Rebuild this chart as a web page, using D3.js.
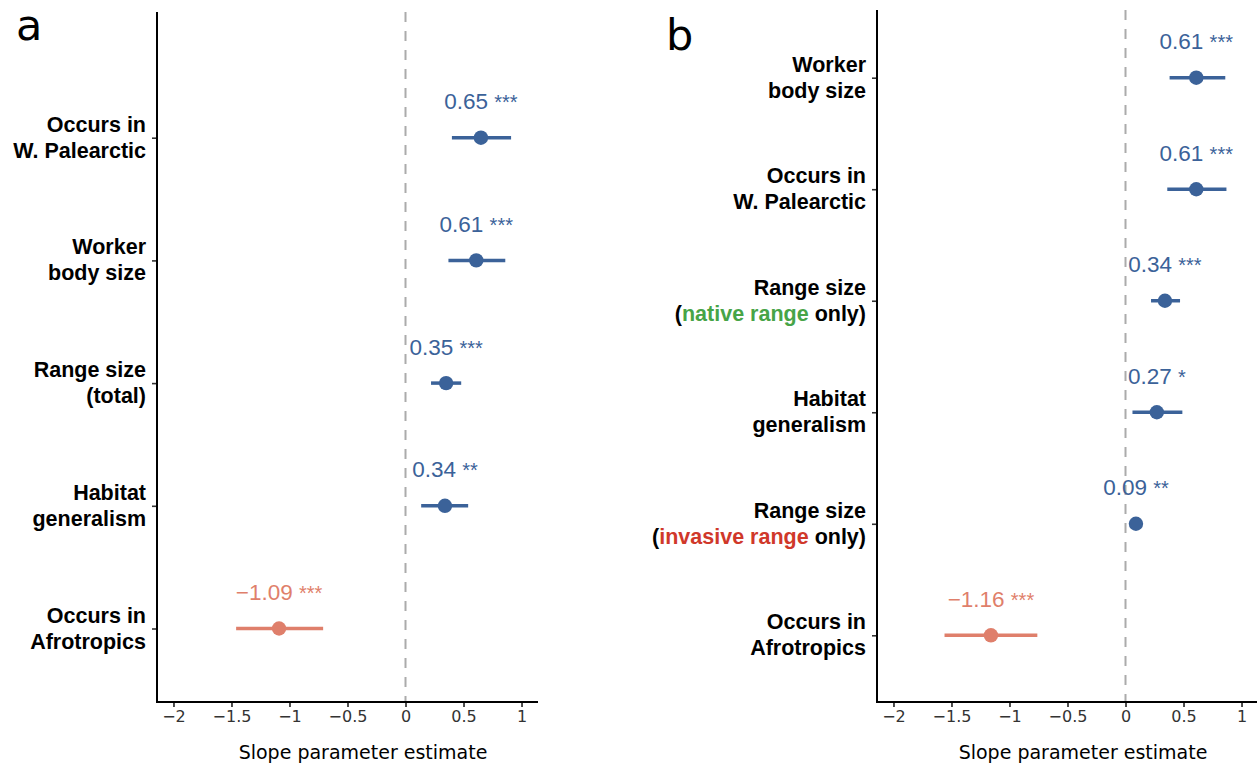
<!DOCTYPE html>
<html>
<head>
<meta charset="utf-8">
<script src="https://cdn.jsdelivr.net/npm/d3@7"></script>
<style>
  body { margin: 0; background: #fff; }
  svg { display: block; }
</style>
</head>
<body>
<div id="chart"></div>
<script>
// tick values shared by both panels
const ticks = [-2, -1.5, -1, -0.5, 0, 0.5, 1];

// panel a
const catsA = ["Occurs in\nW. Palearctic", "Worker\nbody size", "Range size\n(total)", "Habitat\ngeneralism", "Occurs in\nAfrotropics"];
const estA = [0.65, 0.61, 0.35, 0.34, -1.09];
const lowA = [0.40, 0.37, 0.22, 0.135, -1.46];
const highA = [0.91, 0.86, 0.48, 0.54, -0.71];
const starsA = ["***", "***", "***", "**", "***"];

// panel b
const catsB = ["Worker\nbody size", "Occurs in\nW. Palearctic", "Range size\n(native range only)", "Habitat\ngeneralism", "Range size\n(invasive range only)", "Occurs in\nAfrotropics"];
const estB = [0.61, 0.61, 0.34, 0.27, 0.09, -1.16];
const lowB = [0.38, 0.36, 0.22, 0.06, 0.06, -1.56];
const highB = [0.86, 0.87, 0.47, 0.49, 0.12, -0.76];
const starsB = ["***", "***", "***", "*", "**", "***"];

// coloured words inside the category labels
const highlights = { "native range": "#47a447", "invasive range": "#d0382a" };

const posColor = "#3b6299", negColor = "#df7f6b";
const fmt = d3.format(".2f");

const svg = d3.select("#chart").append("svg")
    .attr("width", 1257)
    .attr("height", 766);

drawPanel({ letter: "a", letterX: 16, letterY: 40, left: 157, yTop: 12, yRange: [137.7, 628.5], titleX: 363,
            cats: catsA, est: estA, low: lowA, high: highA, stars: starsA });
drawPanel({ letter: "b", letterX: 666, letterY: 50, left: 877, yTop: 10, yRange: [77.7, 635.3], titleX: 1083,
            cats: catsB, est: estB, low: lowB, high: highB, stars: starsB });

function drawPanel(p) {
    const axisY = 702;
    const x = d3.scaleLinear().domain([-2.142, 1.142]).range([p.left, p.left + 381]);
    const y = d3.scalePoint().domain(p.cats).range(p.yRange);
    const g = svg.append("g");

    // panel letter
    g.append("text")
        .attr("x", p.letterX).attr("y", p.letterY)
        .attr("font-family", "DejaVu Sans").attr("font-size", 43)
        .text(p.letter);

    // zero reference line
    g.append("line")
        .attr("x1", x(0)).attr("x2", x(0))
        .attr("y1", p.yTop).attr("y2", axisY)
        .attr("stroke", "#ababab").attr("stroke-width", 2)
        .attr("stroke-dasharray", "10,9");

    // x axis
    const xAxis = g.append("g")
        .attr("transform", `translate(0,${axisY})`)
        .call(d3.axisBottom(x).tickValues(ticks).tickSize(5).tickPadding(4)
            .tickFormat(d => d === 0 ? "0" : d3.format("")(d).replace("-", "\u2212")));
    xAxis.select(".domain").remove();
    xAxis.selectAll(".tick line").attr("stroke", "#222").attr("stroke-width", 1.6);
    xAxis.selectAll(".tick text")
        .attr("font-family", "DejaVu Sans").attr("font-size", 16).attr("fill", "#333");
    g.append("line")
        .attr("x1", p.left).attr("x2", p.left + 381)
        .attr("y1", axisY).attr("y2", axisY)
        .attr("stroke", "#000").attr("stroke-width", 2);

    // y axis
    const yAxis = g.append("g")
        .attr("transform", `translate(${p.left},0)`)
        .call(d3.axisLeft(y).tickSize(5).tickFormat(""));
    yAxis.select(".domain").remove();
    yAxis.selectAll(".tick line").attr("stroke", "#333").attr("stroke-width", 1.6);
    g.append("line")
        .attr("x1", p.left).attr("x2", p.left)
        .attr("y1", p.yTop).attr("y2", axisY + 1)
        .attr("stroke", "#000").attr("stroke-width", 2);

    // category labels, two lines each
    p.cats.forEach(c => {
        const lines = c.split("\n");
        const t = g.append("text")
            .attr("text-anchor", "end")
            .attr("font-family", "Liberation Sans, Arial, sans-serif")
            .attr("font-weight", "bold").attr("font-size", 21.5);
        lines.forEach((line, i) => {
            const ly = y(c) + (i === 0 ? -6 : 20);
            const key = Object.keys(highlights).find(k => line.includes(k));
            if (!key) {
                t.append("tspan").attr("x", p.left - 11).attr("y", ly).text(line);
            } else {
                const parts = line.split(key);
                t.append("tspan").attr("x", p.left - 11).attr("y", ly).text(parts[0]);
                t.append("tspan").attr("fill", highlights[key]).text(key);
                t.append("tspan").text(parts[1]);
            }
        });
    });

    // rows
    const rows = p.cats.map((c, i) => ({ cat: c, est: p.est[i], low: p.low[i], high: p.high[i], stars: p.stars[i] }));
    const col = d => d.est < 0 ? negColor : posColor;

    g.selectAll("line.ci").data(rows).enter().append("line")
        .attr("x1", d => x(d.low)).attr("x2", d => x(d.high))
        .attr("y1", d => y(d.cat)).attr("y2", d => y(d.cat))
        .attr("stroke", col).attr("stroke-width", 3.5);

    g.selectAll("circle.pt").data(rows).enter().append("circle")
        .attr("cx", d => x(d.est)).attr("cy", d => y(d.cat))
        .attr("r", 7.2).attr("fill", col);

    // estimate + significance stars
    const vt = g.selectAll("text.val").data(rows).enter().append("text")
        .attr("x", d => x(d.est)).attr("y", d => y(d.cat) - 28.5)
        .attr("text-anchor", "middle")
        .attr("font-family", "Liberation Sans, Arial, sans-serif").attr("font-size", 22.5)
        .attr("fill", col);
    vt.append("tspan").text(d => fmt(d.est) + " ");
    vt.append("tspan").attr("font-size", 20).text(d => d.stars);

    // axis title
    g.append("text")
        .attr("x", p.titleX).attr("y", 759)
        .attr("text-anchor", "middle")
        .attr("font-family", "DejaVu Sans").attr("font-size", 19)
        .text("Slope parameter estimate");
}
</script>
</body>
</html>
